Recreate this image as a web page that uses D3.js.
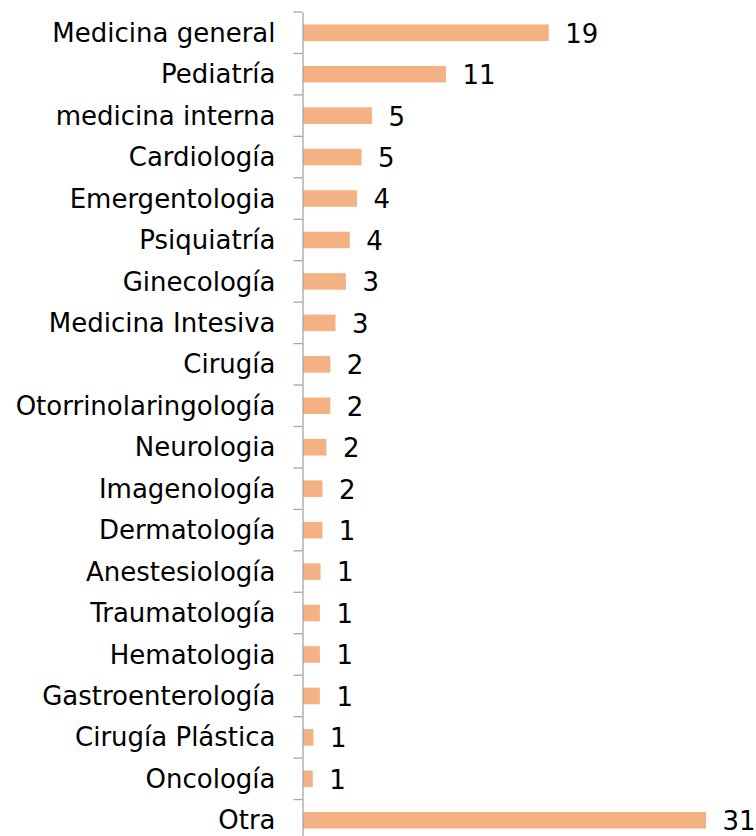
<!DOCTYPE html>
<html>
<head>
<meta charset="utf-8">
<script src="https://cdn.jsdelivr.net/npm/d3@7"></script>
<style>
  body { margin: 0; background: #fff; }
  svg { display: block; }
</style>
</head>
<body>
<svg id="chart" width="756" height="836"></svg>
<script>
// especialidades
const categories = [
    'Medicina general', 'Pediatría', 'medicina interna', 'Cardiología',
    'Emergentologia', 'Psiquiatría', 'Ginecología', 'Medicina Intesiva',
    'Cirugía', 'Otorrinolaringología', 'Neurologia', 'Imagenología',
    'Dermatología', 'Anestesiología', 'Traumatología', 'Hematologia',
    'Gastroenterología', 'Cirugía Plástica', 'Oncología', 'Otra'
]

// valores (la etiqueta muestra el valor redondeado)
const values = [
    18.9, 11, 5.3, 4.5,
    4.15, 3.6, 3.3, 2.5,
    2.1, 2.1, 1.8, 1.5,
    1.49, 1.35, 1.3, 1.3,
    1.3, 0.8, 0.75, 31
]

const data = categories.map((c, i) => ({ name: c, value: values[i] }))

const FONT = '"DejaVu Sans", Verdana, sans-serif'
const BAR_COLOR = '#F4B183'
const AXIS_COLOR = '#A6A6A6'

const svg = d3.select('#chart')
const axisX = 302.5

const x = d3.scaleLinear().domain([0, 35]).range([0, 455])
const y = d3.scaleBand()
    .domain(categories)
    .range([12, 841])
    .paddingInner(0.6)
    .paddingOuter(0.3)

const g = svg.append('g').attr('transform', `translate(${axisX},0)`)

// barras
g.selectAll('.bar')
    .data(data)
    .join('rect')
    .attr('class', 'bar')
    .attr('x', 0.5)
    .attr('y', d => y(d.name))
    .attr('width', d => x(d.value))
    .attr('height', y.bandwidth())
    .attr('fill', BAR_COLOR)

// eje vertical con etiquetas
const axis = g.append('g')
    .call(d3.axisLeft(y).tickSize(0).tickPadding(27))

axis.select('.domain').attr('stroke', AXIS_COLOR).attr('stroke-width', 1.3)
axis.selectAll('text')
    .attr('font-family', FONT)
    .attr('font-size', '26px')
    .attr('fill', '#000')
    .attr('dy', '0.35em')

// marcas entre categorías
const boundaries = categories.map(c => y(c) - y.step() * y.paddingOuter())
boundaries.push(y.range()[1])
g.selectAll('.tick-mark')
    .data(boundaries)
    .join('line')
    .attr('class', 'tick-mark')
    .attr('x1', -9).attr('x2', 0)
    .attr('y1', d => d).attr('y2', d => d)
    .attr('stroke', AXIS_COLOR)
    .attr('stroke-width', 1.3)

// etiquetas de valor
g.selectAll('.value-label')
    .data(data)
    .join('text')
    .attr('class', 'value-label')
    .attr('x', d => x(d.value) + 17)
    .attr('y', d => y(d.name) + y.bandwidth() / 2)
    .attr('dy', '0.38em')
    .attr('font-family', FONT)
    .attr('font-size', '26px')
    .attr('fill', '#000')
    .text(d => Math.round(d.value))
</script>
</body>
</html>
